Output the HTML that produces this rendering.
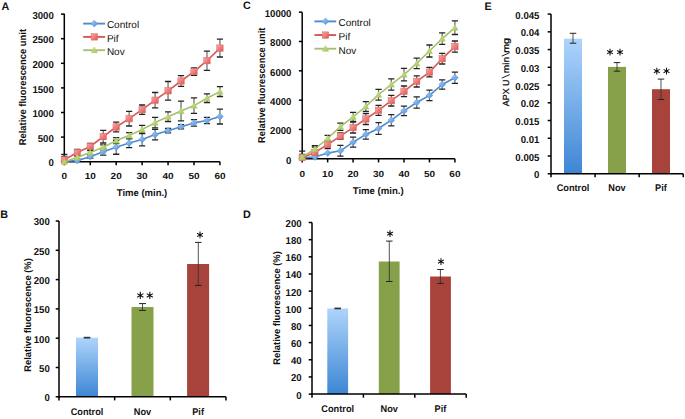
<!DOCTYPE html>
<html><head><meta charset="utf-8"><style>html,body{margin:0;padding:0;background:#fff;width:685px;height:419px;overflow:hidden;position:relative}</style></head>
<body>
<svg width="685" height="419" viewBox="0 0 685 419" style="position:absolute;left:0;top:0;font-family:'Liberation Sans', sans-serif" text-rendering="geometricPrecision">
<defs><linearGradient id="gb" x1="0" y1="0" x2="0" y2="1"><stop offset="0" stop-color="#aed4fb"/><stop offset="1" stop-color="#3d86d4"/></linearGradient><linearGradient id="md" x1="0" y1="0" x2="1" y2="1"><stop offset="0" stop-color="#a6cdf6"/><stop offset="1" stop-color="#4d8fdc"/></linearGradient><linearGradient id="ms" x1="0" y1="0" x2="1" y2="1"><stop offset="0" stop-color="#f8a8a6"/><stop offset="1" stop-color="#e4534f"/></linearGradient><linearGradient id="mt" x1="0" y1="0" x2="1" y2="1"><stop offset="0" stop-color="#d6eca0"/><stop offset="1" stop-color="#9fc248"/></linearGradient><clipPath id="cA"><rect x="40" y="0" width="200" height="160.6"/></clipPath><clipPath id="cC"><rect x="280" y="0" width="200" height="157.7"/></clipPath></defs>
<rect width="685" height="419" fill="#fff"/>
<text transform="translate(1.50,10.30) scale(1.0,1)" font-size="10.8" font-weight="bold" text-anchor="start" fill="#111">A</text>
<text transform="translate(53.80,166.30) scale(0.96,1.0)" font-size="10" font-weight="bold" text-anchor="end" fill="#111">0</text>
<text transform="translate(53.80,141.70) scale(0.96,1.0)" font-size="10" font-weight="bold" text-anchor="end" fill="#111">500</text>
<text transform="translate(53.80,117.10) scale(0.96,1.0)" font-size="10" font-weight="bold" text-anchor="end" fill="#111">1000</text>
<text transform="translate(53.80,92.50) scale(0.96,1.0)" font-size="10" font-weight="bold" text-anchor="end" fill="#111">1500</text>
<text transform="translate(53.80,67.90) scale(0.96,1.0)" font-size="10" font-weight="bold" text-anchor="end" fill="#111">2000</text>
<text transform="translate(53.80,43.30) scale(0.96,1.0)" font-size="10" font-weight="bold" text-anchor="end" fill="#111">2500</text>
<text transform="translate(53.80,18.70) scale(0.96,1.0)" font-size="10" font-weight="bold" text-anchor="end" fill="#111">3000</text>
<text transform="translate(64.30,179.40) scale(1.0,0.89)" font-size="10" font-weight="bold" text-anchor="middle" fill="#111">0</text>
<text transform="translate(90.24,179.40) scale(1.0,0.89)" font-size="10" font-weight="bold" text-anchor="middle" fill="#111">10</text>
<text transform="translate(116.18,179.40) scale(1.0,0.89)" font-size="10" font-weight="bold" text-anchor="middle" fill="#111">20</text>
<text transform="translate(142.12,179.40) scale(1.0,0.89)" font-size="10" font-weight="bold" text-anchor="middle" fill="#111">30</text>
<text transform="translate(168.06,179.40) scale(1.0,0.89)" font-size="10" font-weight="bold" text-anchor="middle" fill="#111">40</text>
<text transform="translate(194.00,179.40) scale(1.0,0.89)" font-size="10" font-weight="bold" text-anchor="middle" fill="#111">50</text>
<text transform="translate(219.94,179.40) scale(1.0,0.89)" font-size="10" font-weight="bold" text-anchor="middle" fill="#111">60</text>
<text transform="translate(142.00,196.40) scale(1.0,0.97)" font-size="10" font-weight="bold" text-anchor="middle" fill="#111" textLength="50.5" lengthAdjust="spacingAndGlyphs">Time (min.)</text>
<text transform="translate(26.10,87.10) rotate(-90)" x="0" y="0" font-size="9.9" font-weight="bold" text-anchor="middle" fill="#111" textLength="116.3" lengthAdjust="spacingAndGlyphs">Relative fluorescence unit</text>
<line x1="64.30" y1="13.70" x2="64.30" y2="162.50" stroke="#000" stroke-width="1.5"/>
<line x1="61.00" y1="161.70" x2="64.30" y2="161.70" stroke="#000" stroke-width="1.5"/>
<line x1="61.00" y1="137.10" x2="64.30" y2="137.10" stroke="#000" stroke-width="1.5"/>
<line x1="61.00" y1="112.50" x2="64.30" y2="112.50" stroke="#000" stroke-width="1.5"/>
<line x1="61.00" y1="87.90" x2="64.30" y2="87.90" stroke="#000" stroke-width="1.5"/>
<line x1="61.00" y1="63.30" x2="64.30" y2="63.30" stroke="#000" stroke-width="1.5"/>
<line x1="61.00" y1="38.70" x2="64.30" y2="38.70" stroke="#000" stroke-width="1.5"/>
<line x1="61.00" y1="14.10" x2="64.30" y2="14.10" stroke="#000" stroke-width="1.5"/>
<line x1="63.50" y1="161.70" x2="219.94" y2="161.70" stroke="#000" stroke-width="1.5"/>
<line x1="64.30" y1="161.70" x2="64.30" y2="165.30" stroke="#000" stroke-width="1.5"/>
<line x1="90.24" y1="161.70" x2="90.24" y2="165.30" stroke="#000" stroke-width="1.5"/>
<line x1="116.18" y1="161.70" x2="116.18" y2="165.30" stroke="#000" stroke-width="1.5"/>
<line x1="142.12" y1="161.70" x2="142.12" y2="165.30" stroke="#000" stroke-width="1.5"/>
<line x1="168.06" y1="161.70" x2="168.06" y2="165.30" stroke="#000" stroke-width="1.5"/>
<line x1="194.00" y1="161.70" x2="194.00" y2="165.30" stroke="#000" stroke-width="1.5"/>
<line x1="219.94" y1="161.70" x2="219.94" y2="165.30" stroke="#000" stroke-width="1.5"/>
<g clip-path="url(#cA)">
<line x1="77.27" y1="159.60" x2="77.27" y2="161.60" stroke="#333" stroke-width="0.9"/>
<line x1="74.17" y1="159.60" x2="80.37" y2="159.60" stroke="#222" stroke-width="1.3"/>
<line x1="74.17" y1="161.60" x2="80.37" y2="161.60" stroke="#222" stroke-width="1.3"/>
<line x1="90.24" y1="155.20" x2="90.24" y2="158.20" stroke="#333" stroke-width="0.9"/>
<line x1="87.14" y1="155.20" x2="93.34" y2="155.20" stroke="#222" stroke-width="1.3"/>
<line x1="87.14" y1="158.20" x2="93.34" y2="158.20" stroke="#222" stroke-width="1.3"/>
<line x1="103.21" y1="148.50" x2="103.21" y2="155.10" stroke="#333" stroke-width="0.9"/>
<line x1="100.11" y1="148.50" x2="106.31" y2="148.50" stroke="#222" stroke-width="1.3"/>
<line x1="100.11" y1="155.10" x2="106.31" y2="155.10" stroke="#222" stroke-width="1.3"/>
<line x1="116.18" y1="140.25" x2="116.18" y2="154.25" stroke="#333" stroke-width="0.9"/>
<line x1="113.08" y1="140.25" x2="119.28" y2="140.25" stroke="#222" stroke-width="1.3"/>
<line x1="113.08" y1="154.25" x2="119.28" y2="154.25" stroke="#222" stroke-width="1.3"/>
<line x1="129.15" y1="138.60" x2="129.15" y2="147.60" stroke="#333" stroke-width="0.9"/>
<line x1="126.05" y1="138.60" x2="132.25" y2="138.60" stroke="#222" stroke-width="1.3"/>
<line x1="126.05" y1="147.60" x2="132.25" y2="147.60" stroke="#222" stroke-width="1.3"/>
<line x1="142.12" y1="133.20" x2="142.12" y2="145.80" stroke="#333" stroke-width="0.9"/>
<line x1="139.02" y1="133.20" x2="145.22" y2="133.20" stroke="#222" stroke-width="1.3"/>
<line x1="139.02" y1="145.80" x2="145.22" y2="145.80" stroke="#222" stroke-width="1.3"/>
<line x1="155.09" y1="129.30" x2="155.09" y2="139.90" stroke="#333" stroke-width="0.9"/>
<line x1="151.99" y1="129.30" x2="158.19" y2="129.30" stroke="#222" stroke-width="1.3"/>
<line x1="151.99" y1="139.90" x2="158.19" y2="139.90" stroke="#222" stroke-width="1.3"/>
<line x1="168.06" y1="128.50" x2="168.06" y2="132.90" stroke="#333" stroke-width="0.9"/>
<line x1="164.96" y1="128.50" x2="171.16" y2="128.50" stroke="#222" stroke-width="1.3"/>
<line x1="164.96" y1="132.90" x2="171.16" y2="132.90" stroke="#222" stroke-width="1.3"/>
<line x1="181.03" y1="124.70" x2="181.03" y2="128.90" stroke="#333" stroke-width="0.9"/>
<line x1="177.93" y1="124.70" x2="184.13" y2="124.70" stroke="#222" stroke-width="1.3"/>
<line x1="177.93" y1="128.90" x2="184.13" y2="128.90" stroke="#222" stroke-width="1.3"/>
<line x1="194.00" y1="119.60" x2="194.00" y2="126.20" stroke="#333" stroke-width="0.9"/>
<line x1="190.90" y1="119.60" x2="197.10" y2="119.60" stroke="#222" stroke-width="1.3"/>
<line x1="190.90" y1="126.20" x2="197.10" y2="126.20" stroke="#222" stroke-width="1.3"/>
<line x1="206.97" y1="117.40" x2="206.97" y2="123.60" stroke="#333" stroke-width="0.9"/>
<line x1="203.87" y1="117.40" x2="210.07" y2="117.40" stroke="#222" stroke-width="1.3"/>
<line x1="203.87" y1="123.60" x2="210.07" y2="123.60" stroke="#222" stroke-width="1.3"/>
<line x1="219.94" y1="109.20" x2="219.94" y2="124.00" stroke="#333" stroke-width="0.9"/>
<line x1="216.84" y1="109.20" x2="223.04" y2="109.20" stroke="#222" stroke-width="1.3"/>
<line x1="216.84" y1="124.00" x2="223.04" y2="124.00" stroke="#222" stroke-width="1.3"/>
</g>
<g clip-path="url(#cA)">
<line x1="64.30" y1="156.50" x2="64.30" y2="163.10" stroke="#333" stroke-width="0.9"/>
<line x1="61.20" y1="156.50" x2="67.40" y2="156.50" stroke="#222" stroke-width="1.3"/>
<line x1="61.20" y1="163.10" x2="67.40" y2="163.10" stroke="#222" stroke-width="1.3"/>
<line x1="77.27" y1="149.50" x2="77.27" y2="155.50" stroke="#333" stroke-width="0.9"/>
<line x1="74.17" y1="149.50" x2="80.37" y2="149.50" stroke="#222" stroke-width="1.3"/>
<line x1="74.17" y1="155.50" x2="80.37" y2="155.50" stroke="#222" stroke-width="1.3"/>
<line x1="90.24" y1="143.50" x2="90.24" y2="149.50" stroke="#333" stroke-width="0.9"/>
<line x1="87.14" y1="143.50" x2="93.34" y2="143.50" stroke="#222" stroke-width="1.3"/>
<line x1="87.14" y1="149.50" x2="93.34" y2="149.50" stroke="#222" stroke-width="1.3"/>
<line x1="103.21" y1="130.40" x2="103.21" y2="143.00" stroke="#333" stroke-width="0.9"/>
<line x1="100.11" y1="130.40" x2="106.31" y2="130.40" stroke="#222" stroke-width="1.3"/>
<line x1="100.11" y1="143.00" x2="106.31" y2="143.00" stroke="#222" stroke-width="1.3"/>
<line x1="116.18" y1="122.20" x2="116.18" y2="131.80" stroke="#333" stroke-width="0.9"/>
<line x1="113.08" y1="122.20" x2="119.28" y2="122.20" stroke="#222" stroke-width="1.3"/>
<line x1="113.08" y1="131.80" x2="119.28" y2="131.80" stroke="#222" stroke-width="1.3"/>
<line x1="129.15" y1="111.40" x2="129.15" y2="126.00" stroke="#333" stroke-width="0.9"/>
<line x1="126.05" y1="111.40" x2="132.25" y2="111.40" stroke="#222" stroke-width="1.3"/>
<line x1="126.05" y1="126.00" x2="132.25" y2="126.00" stroke="#222" stroke-width="1.3"/>
<line x1="142.12" y1="105.00" x2="142.12" y2="114.40" stroke="#333" stroke-width="0.9"/>
<line x1="139.02" y1="105.00" x2="145.22" y2="105.00" stroke="#222" stroke-width="1.3"/>
<line x1="139.02" y1="114.40" x2="145.22" y2="114.40" stroke="#222" stroke-width="1.3"/>
<line x1="155.09" y1="92.50" x2="155.09" y2="107.90" stroke="#333" stroke-width="0.9"/>
<line x1="151.99" y1="92.50" x2="158.19" y2="92.50" stroke="#222" stroke-width="1.3"/>
<line x1="151.99" y1="107.90" x2="158.19" y2="107.90" stroke="#222" stroke-width="1.3"/>
<line x1="168.06" y1="81.50" x2="168.06" y2="100.10" stroke="#333" stroke-width="0.9"/>
<line x1="164.96" y1="81.50" x2="171.16" y2="81.50" stroke="#222" stroke-width="1.3"/>
<line x1="164.96" y1="100.10" x2="171.16" y2="100.10" stroke="#222" stroke-width="1.3"/>
<line x1="181.03" y1="75.60" x2="181.03" y2="86.40" stroke="#333" stroke-width="0.9"/>
<line x1="177.93" y1="75.60" x2="184.13" y2="75.60" stroke="#222" stroke-width="1.3"/>
<line x1="177.93" y1="86.40" x2="184.13" y2="86.40" stroke="#222" stroke-width="1.3"/>
<line x1="194.00" y1="67.90" x2="194.00" y2="75.30" stroke="#333" stroke-width="0.9"/>
<line x1="190.90" y1="67.90" x2="197.10" y2="67.90" stroke="#222" stroke-width="1.3"/>
<line x1="190.90" y1="75.30" x2="197.10" y2="75.30" stroke="#222" stroke-width="1.3"/>
<line x1="206.97" y1="51.10" x2="206.97" y2="70.30" stroke="#333" stroke-width="0.9"/>
<line x1="203.87" y1="51.10" x2="210.07" y2="51.10" stroke="#222" stroke-width="1.3"/>
<line x1="203.87" y1="70.30" x2="210.07" y2="70.30" stroke="#222" stroke-width="1.3"/>
<line x1="219.94" y1="39.20" x2="219.94" y2="57.00" stroke="#333" stroke-width="0.9"/>
<line x1="216.84" y1="39.20" x2="223.04" y2="39.20" stroke="#222" stroke-width="1.3"/>
<line x1="216.84" y1="57.00" x2="223.04" y2="57.00" stroke="#222" stroke-width="1.3"/>
</g>
<g clip-path="url(#cA)">
<line x1="64.30" y1="154.30" x2="64.30" y2="169.70" stroke="#333" stroke-width="0.9"/>
<line x1="61.20" y1="154.30" x2="67.40" y2="154.30" stroke="#222" stroke-width="1.3"/>
<line x1="61.20" y1="169.70" x2="67.40" y2="169.70" stroke="#222" stroke-width="1.3"/>
<line x1="77.27" y1="155.80" x2="77.27" y2="158.80" stroke="#333" stroke-width="0.9"/>
<line x1="74.17" y1="155.80" x2="80.37" y2="155.80" stroke="#222" stroke-width="1.3"/>
<line x1="74.17" y1="158.80" x2="80.37" y2="158.80" stroke="#222" stroke-width="1.3"/>
<line x1="90.24" y1="150.60" x2="90.24" y2="154.60" stroke="#333" stroke-width="0.9"/>
<line x1="87.14" y1="150.60" x2="93.34" y2="150.60" stroke="#222" stroke-width="1.3"/>
<line x1="87.14" y1="154.60" x2="93.34" y2="154.60" stroke="#222" stroke-width="1.3"/>
<line x1="103.21" y1="144.80" x2="103.21" y2="149.80" stroke="#333" stroke-width="0.9"/>
<line x1="100.11" y1="144.80" x2="106.31" y2="144.80" stroke="#222" stroke-width="1.3"/>
<line x1="100.11" y1="149.80" x2="106.31" y2="149.80" stroke="#222" stroke-width="1.3"/>
<line x1="116.18" y1="137.60" x2="116.18" y2="143.60" stroke="#333" stroke-width="0.9"/>
<line x1="113.08" y1="137.60" x2="119.28" y2="137.60" stroke="#222" stroke-width="1.3"/>
<line x1="113.08" y1="143.60" x2="119.28" y2="143.60" stroke="#222" stroke-width="1.3"/>
<line x1="129.15" y1="132.60" x2="129.15" y2="138.60" stroke="#333" stroke-width="0.9"/>
<line x1="126.05" y1="132.60" x2="132.25" y2="132.60" stroke="#222" stroke-width="1.3"/>
<line x1="126.05" y1="138.60" x2="132.25" y2="138.60" stroke="#222" stroke-width="1.3"/>
<line x1="142.12" y1="125.30" x2="142.12" y2="133.70" stroke="#333" stroke-width="0.9"/>
<line x1="139.02" y1="125.30" x2="145.22" y2="125.30" stroke="#222" stroke-width="1.3"/>
<line x1="139.02" y1="133.70" x2="145.22" y2="133.70" stroke="#222" stroke-width="1.3"/>
<line x1="155.09" y1="117.40" x2="155.09" y2="127.80" stroke="#333" stroke-width="0.9"/>
<line x1="151.99" y1="117.40" x2="158.19" y2="117.40" stroke="#222" stroke-width="1.3"/>
<line x1="151.99" y1="127.80" x2="158.19" y2="127.80" stroke="#222" stroke-width="1.3"/>
<line x1="168.06" y1="111.90" x2="168.06" y2="121.50" stroke="#333" stroke-width="0.9"/>
<line x1="164.96" y1="111.90" x2="171.16" y2="111.90" stroke="#222" stroke-width="1.3"/>
<line x1="164.96" y1="121.50" x2="171.16" y2="121.50" stroke="#222" stroke-width="1.3"/>
<line x1="181.03" y1="101.20" x2="181.03" y2="120.80" stroke="#333" stroke-width="0.9"/>
<line x1="177.93" y1="101.20" x2="184.13" y2="101.20" stroke="#222" stroke-width="1.3"/>
<line x1="177.93" y1="120.80" x2="184.13" y2="120.80" stroke="#222" stroke-width="1.3"/>
<line x1="194.00" y1="97.90" x2="194.00" y2="113.30" stroke="#333" stroke-width="0.9"/>
<line x1="190.90" y1="97.90" x2="197.10" y2="97.90" stroke="#222" stroke-width="1.3"/>
<line x1="190.90" y1="113.30" x2="197.10" y2="113.30" stroke="#222" stroke-width="1.3"/>
<line x1="206.97" y1="93.90" x2="206.97" y2="102.50" stroke="#333" stroke-width="0.9"/>
<line x1="203.87" y1="93.90" x2="210.07" y2="93.90" stroke="#222" stroke-width="1.3"/>
<line x1="203.87" y1="102.50" x2="210.07" y2="102.50" stroke="#222" stroke-width="1.3"/>
<line x1="219.94" y1="86.70" x2="219.94" y2="96.50" stroke="#333" stroke-width="0.9"/>
<line x1="216.84" y1="86.70" x2="223.04" y2="86.70" stroke="#222" stroke-width="1.3"/>
<line x1="216.84" y1="96.50" x2="223.04" y2="96.50" stroke="#222" stroke-width="1.3"/>
</g>
<polyline points="64.30,161.30 77.27,160.60 90.24,156.70 103.21,151.80 116.18,147.25 129.15,143.10 142.12,139.50 155.09,134.60 168.06,130.70 181.03,126.80 194.00,122.90 206.97,120.50 219.94,116.60" fill="none" stroke="#5089cc" stroke-width="1.6" stroke-linejoin="round"/>
<path d="M64.30 158.00 L67.70 161.30 L64.30 164.60 L60.90 161.30Z" fill="url(#md)" stroke="#5b93d6" stroke-width="0.5"/>
<path d="M77.27 157.30 L80.67 160.60 L77.27 163.90 L73.87 160.60Z" fill="url(#md)" stroke="#5b93d6" stroke-width="0.5"/>
<path d="M90.24 153.40 L93.64 156.70 L90.24 160.00 L86.84 156.70Z" fill="url(#md)" stroke="#5b93d6" stroke-width="0.5"/>
<path d="M103.21 148.50 L106.61 151.80 L103.21 155.10 L99.81 151.80Z" fill="url(#md)" stroke="#5b93d6" stroke-width="0.5"/>
<path d="M116.18 143.95 L119.58 147.25 L116.18 150.55 L112.78 147.25Z" fill="url(#md)" stroke="#5b93d6" stroke-width="0.5"/>
<path d="M129.15 139.80 L132.55 143.10 L129.15 146.40 L125.75 143.10Z" fill="url(#md)" stroke="#5b93d6" stroke-width="0.5"/>
<path d="M142.12 136.20 L145.52 139.50 L142.12 142.80 L138.72 139.50Z" fill="url(#md)" stroke="#5b93d6" stroke-width="0.5"/>
<path d="M155.09 131.30 L158.49 134.60 L155.09 137.90 L151.69 134.60Z" fill="url(#md)" stroke="#5b93d6" stroke-width="0.5"/>
<path d="M168.06 127.40 L171.46 130.70 L168.06 134.00 L164.66 130.70Z" fill="url(#md)" stroke="#5b93d6" stroke-width="0.5"/>
<path d="M181.03 123.50 L184.43 126.80 L181.03 130.10 L177.63 126.80Z" fill="url(#md)" stroke="#5b93d6" stroke-width="0.5"/>
<path d="M194.00 119.60 L197.40 122.90 L194.00 126.20 L190.60 122.90Z" fill="url(#md)" stroke="#5b93d6" stroke-width="0.5"/>
<path d="M206.97 117.20 L210.37 120.50 L206.97 123.80 L203.57 120.50Z" fill="url(#md)" stroke="#5b93d6" stroke-width="0.5"/>
<path d="M219.94 113.30 L223.34 116.60 L219.94 119.90 L216.54 116.60Z" fill="url(#md)" stroke="#5b93d6" stroke-width="0.5"/>
<polyline points="64.30,159.80 77.27,152.50 90.24,146.50 103.21,136.70 116.18,127.00 129.15,118.70 142.12,109.70 155.09,100.20 168.06,90.80 181.03,81.00 194.00,71.60 206.97,60.70 219.94,48.10" fill="none" stroke="#d4585a" stroke-width="1.6" stroke-linejoin="round"/>
<rect x="61.10" y="156.60" width="6.4" height="6.4" fill="url(#ms)" stroke="#dc6663" stroke-width="0.5"/>
<rect x="74.07" y="149.30" width="6.4" height="6.4" fill="url(#ms)" stroke="#dc6663" stroke-width="0.5"/>
<rect x="87.04" y="143.30" width="6.4" height="6.4" fill="url(#ms)" stroke="#dc6663" stroke-width="0.5"/>
<rect x="100.01" y="133.50" width="6.4" height="6.4" fill="url(#ms)" stroke="#dc6663" stroke-width="0.5"/>
<rect x="112.98" y="123.80" width="6.4" height="6.4" fill="url(#ms)" stroke="#dc6663" stroke-width="0.5"/>
<rect x="125.95" y="115.50" width="6.4" height="6.4" fill="url(#ms)" stroke="#dc6663" stroke-width="0.5"/>
<rect x="138.92" y="106.50" width="6.4" height="6.4" fill="url(#ms)" stroke="#dc6663" stroke-width="0.5"/>
<rect x="151.89" y="97.00" width="6.4" height="6.4" fill="url(#ms)" stroke="#dc6663" stroke-width="0.5"/>
<rect x="164.86" y="87.60" width="6.4" height="6.4" fill="url(#ms)" stroke="#dc6663" stroke-width="0.5"/>
<rect x="177.83" y="77.80" width="6.4" height="6.4" fill="url(#ms)" stroke="#dc6663" stroke-width="0.5"/>
<rect x="190.80" y="68.40" width="6.4" height="6.4" fill="url(#ms)" stroke="#dc6663" stroke-width="0.5"/>
<rect x="203.77" y="57.50" width="6.4" height="6.4" fill="url(#ms)" stroke="#dc6663" stroke-width="0.5"/>
<rect x="216.74" y="44.90" width="6.4" height="6.4" fill="url(#ms)" stroke="#dc6663" stroke-width="0.5"/>
<polyline points="64.30,162.00 77.27,157.30 90.24,152.60 103.21,147.30 116.18,140.60 129.15,135.60 142.12,129.50 155.09,122.60 168.06,116.70 181.03,111.00 194.00,105.60 206.97,98.20 219.94,91.60" fill="none" stroke="#a4c070" stroke-width="1.6" stroke-linejoin="round"/>
<path d="M64.30 158.80 L67.40 164.60 L61.20 164.60Z" fill="url(#mt)" stroke="#a9c866" stroke-width="0.5"/>
<path d="M77.27 154.10 L80.37 159.90 L74.17 159.90Z" fill="url(#mt)" stroke="#a9c866" stroke-width="0.5"/>
<path d="M90.24 149.40 L93.34 155.20 L87.14 155.20Z" fill="url(#mt)" stroke="#a9c866" stroke-width="0.5"/>
<path d="M103.21 144.10 L106.31 149.90 L100.11 149.90Z" fill="url(#mt)" stroke="#a9c866" stroke-width="0.5"/>
<path d="M116.18 137.40 L119.28 143.20 L113.08 143.20Z" fill="url(#mt)" stroke="#a9c866" stroke-width="0.5"/>
<path d="M129.15 132.40 L132.25 138.20 L126.05 138.20Z" fill="url(#mt)" stroke="#a9c866" stroke-width="0.5"/>
<path d="M142.12 126.30 L145.22 132.10 L139.02 132.10Z" fill="url(#mt)" stroke="#a9c866" stroke-width="0.5"/>
<path d="M155.09 119.40 L158.19 125.20 L151.99 125.20Z" fill="url(#mt)" stroke="#a9c866" stroke-width="0.5"/>
<path d="M168.06 113.50 L171.16 119.30 L164.96 119.30Z" fill="url(#mt)" stroke="#a9c866" stroke-width="0.5"/>
<path d="M181.03 107.80 L184.13 113.60 L177.93 113.60Z" fill="url(#mt)" stroke="#a9c866" stroke-width="0.5"/>
<path d="M194.00 102.40 L197.10 108.20 L190.90 108.20Z" fill="url(#mt)" stroke="#a9c866" stroke-width="0.5"/>
<path d="M206.97 95.00 L210.07 100.80 L203.87 100.80Z" fill="url(#mt)" stroke="#a9c866" stroke-width="0.5"/>
<path d="M219.94 88.40 L223.04 94.20 L216.84 94.20Z" fill="url(#mt)" stroke="#a9c866" stroke-width="0.5"/>
<line x1="83.20" y1="23.60" x2="105.10" y2="23.60" stroke="#5089cc" stroke-width="1.9"/>
<path d="M94.30 20.30 L97.70 23.60 L94.30 26.90 L90.90 23.60Z" fill="url(#md)" stroke="#5b93d6" stroke-width="0.5"/>
<text transform="translate(106.90,28.40) scale(1.0,1.0)" font-size="10" font-weight="normal" text-anchor="start" fill="#111">Control</text>
<line x1="83.20" y1="36.90" x2="105.10" y2="36.90" stroke="#d4585a" stroke-width="1.9"/>
<rect x="91.10" y="33.70" width="6.4" height="6.4" fill="url(#ms)" stroke="#dc6663" stroke-width="0.5"/>
<text transform="translate(106.90,41.70) scale(1.0,1.0)" font-size="10" font-weight="normal" text-anchor="start" fill="#111">Pif</text>
<line x1="83.20" y1="50.20" x2="105.10" y2="50.20" stroke="#a4c070" stroke-width="1.9"/>
<path d="M94.30 47.00 L97.40 52.80 L91.20 52.80Z" fill="url(#mt)" stroke="#a9c866" stroke-width="0.5"/>
<text transform="translate(106.90,55.00) scale(1.0,1.0)" font-size="10" font-weight="normal" text-anchor="start" fill="#111">Nov</text>
<text transform="translate(242.90,9.20) scale(1.0,1)" font-size="10.8" font-weight="bold" text-anchor="start" fill="#111">C</text>
<text transform="translate(291.40,163.50) scale(0.96,1.0)" font-size="10" font-weight="bold" text-anchor="end" fill="#111">0</text>
<text transform="translate(291.40,134.17) scale(0.96,1.0)" font-size="10" font-weight="bold" text-anchor="end" fill="#111">2000</text>
<text transform="translate(291.40,104.84) scale(0.96,1.0)" font-size="10" font-weight="bold" text-anchor="end" fill="#111">4000</text>
<text transform="translate(291.40,75.51) scale(0.96,1.0)" font-size="10" font-weight="bold" text-anchor="end" fill="#111">6000</text>
<text transform="translate(291.40,46.18) scale(0.96,1.0)" font-size="10" font-weight="bold" text-anchor="end" fill="#111">8000</text>
<text transform="translate(291.40,16.85) scale(0.96,1.0)" font-size="10" font-weight="bold" text-anchor="end" fill="#111">10000</text>
<text transform="translate(302.20,177.20) scale(1.0,0.89)" font-size="10" font-weight="bold" text-anchor="middle" fill="#111">0</text>
<text transform="translate(327.65,177.20) scale(1.0,0.89)" font-size="10" font-weight="bold" text-anchor="middle" fill="#111">10</text>
<text transform="translate(353.10,177.20) scale(1.0,0.89)" font-size="10" font-weight="bold" text-anchor="middle" fill="#111">20</text>
<text transform="translate(378.55,177.20) scale(1.0,0.89)" font-size="10" font-weight="bold" text-anchor="middle" fill="#111">30</text>
<text transform="translate(404.00,177.20) scale(1.0,0.89)" font-size="10" font-weight="bold" text-anchor="middle" fill="#111">40</text>
<text transform="translate(429.45,177.20) scale(1.0,0.89)" font-size="10" font-weight="bold" text-anchor="middle" fill="#111">50</text>
<text transform="translate(454.90,177.20) scale(1.0,0.89)" font-size="10" font-weight="bold" text-anchor="middle" fill="#111">60</text>
<text transform="translate(378.20,193.90) scale(1.0,0.97)" font-size="10" font-weight="bold" text-anchor="middle" fill="#111" textLength="51" lengthAdjust="spacingAndGlyphs">Time (min.)</text>
<text transform="translate(265.00,85.25) rotate(-90)" x="0" y="0" font-size="9.9" font-weight="bold" text-anchor="middle" fill="#111" textLength="115.3" lengthAdjust="spacingAndGlyphs">Relative fluorescence unit</text>
<line x1="302.20" y1="12.20" x2="302.20" y2="159.60" stroke="#000" stroke-width="1.5"/>
<line x1="298.90" y1="158.80" x2="302.20" y2="158.80" stroke="#000" stroke-width="1.5"/>
<line x1="298.90" y1="129.47" x2="302.20" y2="129.47" stroke="#000" stroke-width="1.5"/>
<line x1="298.90" y1="100.14" x2="302.20" y2="100.14" stroke="#000" stroke-width="1.5"/>
<line x1="298.90" y1="70.81" x2="302.20" y2="70.81" stroke="#000" stroke-width="1.5"/>
<line x1="298.90" y1="41.48" x2="302.20" y2="41.48" stroke="#000" stroke-width="1.5"/>
<line x1="298.90" y1="12.15" x2="302.20" y2="12.15" stroke="#000" stroke-width="1.5"/>
<line x1="301.40" y1="158.80" x2="454.90" y2="158.80" stroke="#000" stroke-width="1.5"/>
<line x1="302.20" y1="158.80" x2="302.20" y2="162.40" stroke="#000" stroke-width="1.5"/>
<line x1="327.65" y1="158.80" x2="327.65" y2="162.40" stroke="#000" stroke-width="1.5"/>
<line x1="353.10" y1="158.80" x2="353.10" y2="162.40" stroke="#000" stroke-width="1.5"/>
<line x1="378.55" y1="158.80" x2="378.55" y2="162.40" stroke="#000" stroke-width="1.5"/>
<line x1="404.00" y1="158.80" x2="404.00" y2="162.40" stroke="#000" stroke-width="1.5"/>
<line x1="429.45" y1="158.80" x2="429.45" y2="162.40" stroke="#000" stroke-width="1.5"/>
<line x1="454.90" y1="158.80" x2="454.90" y2="162.40" stroke="#000" stroke-width="1.5"/>
<g clip-path="url(#cC)">
<line x1="302.20" y1="154.60" x2="302.20" y2="160.60" stroke="#333" stroke-width="0.9"/>
<line x1="299.10" y1="154.60" x2="305.30" y2="154.60" stroke="#222" stroke-width="1.3"/>
<line x1="299.10" y1="160.60" x2="305.30" y2="160.60" stroke="#222" stroke-width="1.3"/>
<line x1="314.93" y1="155.10" x2="314.93" y2="159.10" stroke="#333" stroke-width="0.9"/>
<line x1="311.82" y1="155.10" x2="318.03" y2="155.10" stroke="#222" stroke-width="1.3"/>
<line x1="311.82" y1="159.10" x2="318.03" y2="159.10" stroke="#222" stroke-width="1.3"/>
<line x1="340.38" y1="145.40" x2="340.38" y2="156.20" stroke="#333" stroke-width="0.9"/>
<line x1="337.27" y1="145.40" x2="343.48" y2="145.40" stroke="#222" stroke-width="1.3"/>
<line x1="337.27" y1="156.20" x2="343.48" y2="156.20" stroke="#222" stroke-width="1.3"/>
<line x1="353.10" y1="137.20" x2="353.10" y2="147.20" stroke="#333" stroke-width="0.9"/>
<line x1="350.00" y1="137.20" x2="356.20" y2="137.20" stroke="#222" stroke-width="1.3"/>
<line x1="350.00" y1="147.20" x2="356.20" y2="147.20" stroke="#222" stroke-width="1.3"/>
<line x1="365.82" y1="129.70" x2="365.82" y2="139.10" stroke="#333" stroke-width="0.9"/>
<line x1="362.72" y1="129.70" x2="368.93" y2="129.70" stroke="#222" stroke-width="1.3"/>
<line x1="362.72" y1="139.10" x2="368.93" y2="139.10" stroke="#222" stroke-width="1.3"/>
<line x1="378.55" y1="122.70" x2="378.55" y2="134.30" stroke="#333" stroke-width="0.9"/>
<line x1="375.45" y1="122.70" x2="381.65" y2="122.70" stroke="#222" stroke-width="1.3"/>
<line x1="375.45" y1="134.30" x2="381.65" y2="134.30" stroke="#222" stroke-width="1.3"/>
<line x1="391.27" y1="114.60" x2="391.27" y2="125.80" stroke="#333" stroke-width="0.9"/>
<line x1="388.17" y1="114.60" x2="394.38" y2="114.60" stroke="#222" stroke-width="1.3"/>
<line x1="388.17" y1="125.80" x2="394.38" y2="125.80" stroke="#222" stroke-width="1.3"/>
<line x1="404.00" y1="106.20" x2="404.00" y2="115.60" stroke="#333" stroke-width="0.9"/>
<line x1="400.90" y1="106.20" x2="407.10" y2="106.20" stroke="#222" stroke-width="1.3"/>
<line x1="400.90" y1="115.60" x2="407.10" y2="115.60" stroke="#222" stroke-width="1.3"/>
<line x1="416.72" y1="96.90" x2="416.72" y2="108.10" stroke="#333" stroke-width="0.9"/>
<line x1="413.62" y1="96.90" x2="419.82" y2="96.90" stroke="#222" stroke-width="1.3"/>
<line x1="413.62" y1="108.10" x2="419.82" y2="108.10" stroke="#222" stroke-width="1.3"/>
<line x1="429.45" y1="90.10" x2="429.45" y2="100.70" stroke="#333" stroke-width="0.9"/>
<line x1="426.35" y1="90.10" x2="432.55" y2="90.10" stroke="#222" stroke-width="1.3"/>
<line x1="426.35" y1="100.70" x2="432.55" y2="100.70" stroke="#222" stroke-width="1.3"/>
<line x1="442.17" y1="79.80" x2="442.17" y2="89.20" stroke="#333" stroke-width="0.9"/>
<line x1="439.07" y1="79.80" x2="445.27" y2="79.80" stroke="#222" stroke-width="1.3"/>
<line x1="439.07" y1="89.20" x2="445.27" y2="89.20" stroke="#222" stroke-width="1.3"/>
<line x1="454.90" y1="72.10" x2="454.90" y2="83.30" stroke="#333" stroke-width="0.9"/>
<line x1="451.80" y1="72.10" x2="458.00" y2="72.10" stroke="#222" stroke-width="1.3"/>
<line x1="451.80" y1="83.30" x2="458.00" y2="83.30" stroke="#222" stroke-width="1.3"/>
</g>
<g clip-path="url(#cC)">
<line x1="302.20" y1="154.50" x2="302.20" y2="160.50" stroke="#333" stroke-width="0.9"/>
<line x1="299.10" y1="154.50" x2="305.30" y2="154.50" stroke="#222" stroke-width="1.3"/>
<line x1="299.10" y1="160.50" x2="305.30" y2="160.50" stroke="#222" stroke-width="1.3"/>
<line x1="314.93" y1="147.00" x2="314.93" y2="157.80" stroke="#333" stroke-width="0.9"/>
<line x1="311.82" y1="147.00" x2="318.03" y2="147.00" stroke="#222" stroke-width="1.3"/>
<line x1="311.82" y1="157.80" x2="318.03" y2="157.80" stroke="#222" stroke-width="1.3"/>
<line x1="327.65" y1="140.50" x2="327.65" y2="148.50" stroke="#333" stroke-width="0.9"/>
<line x1="324.55" y1="140.50" x2="330.75" y2="140.50" stroke="#222" stroke-width="1.3"/>
<line x1="324.55" y1="148.50" x2="330.75" y2="148.50" stroke="#222" stroke-width="1.3"/>
<line x1="340.38" y1="133.00" x2="340.38" y2="139.40" stroke="#333" stroke-width="0.9"/>
<line x1="337.27" y1="133.00" x2="343.48" y2="133.00" stroke="#222" stroke-width="1.3"/>
<line x1="337.27" y1="139.40" x2="343.48" y2="139.40" stroke="#222" stroke-width="1.3"/>
<line x1="353.10" y1="122.20" x2="353.10" y2="133.00" stroke="#333" stroke-width="0.9"/>
<line x1="350.00" y1="122.20" x2="356.20" y2="122.20" stroke="#222" stroke-width="1.3"/>
<line x1="350.00" y1="133.00" x2="356.20" y2="133.00" stroke="#222" stroke-width="1.3"/>
<line x1="365.82" y1="113.50" x2="365.82" y2="124.50" stroke="#333" stroke-width="0.9"/>
<line x1="362.72" y1="113.50" x2="368.93" y2="113.50" stroke="#222" stroke-width="1.3"/>
<line x1="362.72" y1="124.50" x2="368.93" y2="124.50" stroke="#222" stroke-width="1.3"/>
<line x1="378.55" y1="105.30" x2="378.55" y2="115.30" stroke="#333" stroke-width="0.9"/>
<line x1="375.45" y1="105.30" x2="381.65" y2="105.30" stroke="#222" stroke-width="1.3"/>
<line x1="375.45" y1="115.30" x2="381.65" y2="115.30" stroke="#222" stroke-width="1.3"/>
<line x1="391.27" y1="95.40" x2="391.27" y2="106.00" stroke="#333" stroke-width="0.9"/>
<line x1="388.17" y1="95.40" x2="394.38" y2="95.40" stroke="#222" stroke-width="1.3"/>
<line x1="388.17" y1="106.00" x2="394.38" y2="106.00" stroke="#222" stroke-width="1.3"/>
<line x1="404.00" y1="86.00" x2="404.00" y2="96.60" stroke="#333" stroke-width="0.9"/>
<line x1="400.90" y1="86.00" x2="407.10" y2="86.00" stroke="#222" stroke-width="1.3"/>
<line x1="400.90" y1="96.60" x2="407.10" y2="96.60" stroke="#222" stroke-width="1.3"/>
<line x1="416.72" y1="75.80" x2="416.72" y2="87.00" stroke="#333" stroke-width="0.9"/>
<line x1="413.62" y1="75.80" x2="419.82" y2="75.80" stroke="#222" stroke-width="1.3"/>
<line x1="413.62" y1="87.00" x2="419.82" y2="87.00" stroke="#222" stroke-width="1.3"/>
<line x1="429.45" y1="67.40" x2="429.45" y2="76.80" stroke="#333" stroke-width="0.9"/>
<line x1="426.35" y1="67.40" x2="432.55" y2="67.40" stroke="#222" stroke-width="1.3"/>
<line x1="426.35" y1="76.80" x2="432.55" y2="76.80" stroke="#222" stroke-width="1.3"/>
<line x1="442.17" y1="53.40" x2="442.17" y2="64.00" stroke="#333" stroke-width="0.9"/>
<line x1="439.07" y1="53.40" x2="445.27" y2="53.40" stroke="#222" stroke-width="1.3"/>
<line x1="439.07" y1="64.00" x2="445.27" y2="64.00" stroke="#222" stroke-width="1.3"/>
<line x1="454.90" y1="41.00" x2="454.90" y2="52.20" stroke="#333" stroke-width="0.9"/>
<line x1="451.80" y1="41.00" x2="458.00" y2="41.00" stroke="#222" stroke-width="1.3"/>
<line x1="451.80" y1="52.20" x2="458.00" y2="52.20" stroke="#222" stroke-width="1.3"/>
</g>
<g clip-path="url(#cC)">
<line x1="302.20" y1="151.10" x2="302.20" y2="163.10" stroke="#333" stroke-width="0.9"/>
<line x1="299.10" y1="151.10" x2="305.30" y2="151.10" stroke="#222" stroke-width="1.3"/>
<line x1="299.10" y1="163.10" x2="305.30" y2="163.10" stroke="#222" stroke-width="1.3"/>
<line x1="314.93" y1="145.70" x2="314.93" y2="152.30" stroke="#333" stroke-width="0.9"/>
<line x1="311.82" y1="145.70" x2="318.03" y2="145.70" stroke="#222" stroke-width="1.3"/>
<line x1="311.82" y1="152.30" x2="318.03" y2="152.30" stroke="#222" stroke-width="1.3"/>
<line x1="327.65" y1="135.30" x2="327.65" y2="141.70" stroke="#333" stroke-width="0.9"/>
<line x1="324.55" y1="135.30" x2="330.75" y2="135.30" stroke="#222" stroke-width="1.3"/>
<line x1="324.55" y1="141.70" x2="330.75" y2="141.70" stroke="#222" stroke-width="1.3"/>
<line x1="340.38" y1="123.10" x2="340.38" y2="130.30" stroke="#333" stroke-width="0.9"/>
<line x1="337.27" y1="123.10" x2="343.48" y2="123.10" stroke="#222" stroke-width="1.3"/>
<line x1="337.27" y1="130.30" x2="343.48" y2="130.30" stroke="#222" stroke-width="1.3"/>
<line x1="353.10" y1="112.30" x2="353.10" y2="121.30" stroke="#333" stroke-width="0.9"/>
<line x1="350.00" y1="112.30" x2="356.20" y2="112.30" stroke="#222" stroke-width="1.3"/>
<line x1="350.00" y1="121.30" x2="356.20" y2="121.30" stroke="#222" stroke-width="1.3"/>
<line x1="365.82" y1="101.70" x2="365.82" y2="111.30" stroke="#333" stroke-width="0.9"/>
<line x1="362.72" y1="101.70" x2="368.93" y2="101.70" stroke="#222" stroke-width="1.3"/>
<line x1="362.72" y1="111.30" x2="368.93" y2="111.30" stroke="#222" stroke-width="1.3"/>
<line x1="378.55" y1="89.30" x2="378.55" y2="100.10" stroke="#333" stroke-width="0.9"/>
<line x1="375.45" y1="89.30" x2="381.65" y2="89.30" stroke="#222" stroke-width="1.3"/>
<line x1="375.45" y1="100.10" x2="381.65" y2="100.10" stroke="#222" stroke-width="1.3"/>
<line x1="391.27" y1="78.90" x2="391.27" y2="90.10" stroke="#333" stroke-width="0.9"/>
<line x1="388.17" y1="78.90" x2="394.38" y2="78.90" stroke="#222" stroke-width="1.3"/>
<line x1="388.17" y1="90.10" x2="394.38" y2="90.10" stroke="#222" stroke-width="1.3"/>
<line x1="404.00" y1="68.40" x2="404.00" y2="80.80" stroke="#333" stroke-width="0.9"/>
<line x1="400.90" y1="68.40" x2="407.10" y2="68.40" stroke="#222" stroke-width="1.3"/>
<line x1="400.90" y1="80.80" x2="407.10" y2="80.80" stroke="#222" stroke-width="1.3"/>
<line x1="416.72" y1="58.10" x2="416.72" y2="68.70" stroke="#333" stroke-width="0.9"/>
<line x1="413.62" y1="58.10" x2="419.82" y2="58.10" stroke="#222" stroke-width="1.3"/>
<line x1="413.62" y1="68.70" x2="419.82" y2="68.70" stroke="#222" stroke-width="1.3"/>
<line x1="429.45" y1="45.00" x2="429.45" y2="57.00" stroke="#333" stroke-width="0.9"/>
<line x1="426.35" y1="45.00" x2="432.55" y2="45.00" stroke="#222" stroke-width="1.3"/>
<line x1="426.35" y1="57.00" x2="432.55" y2="57.00" stroke="#222" stroke-width="1.3"/>
<line x1="442.17" y1="32.80" x2="442.17" y2="44.40" stroke="#333" stroke-width="0.9"/>
<line x1="439.07" y1="32.80" x2="445.27" y2="32.80" stroke="#222" stroke-width="1.3"/>
<line x1="439.07" y1="44.40" x2="445.27" y2="44.40" stroke="#222" stroke-width="1.3"/>
<line x1="454.90" y1="20.90" x2="454.90" y2="34.50" stroke="#333" stroke-width="0.9"/>
<line x1="451.80" y1="20.90" x2="458.00" y2="20.90" stroke="#222" stroke-width="1.3"/>
<line x1="451.80" y1="34.50" x2="458.00" y2="34.50" stroke="#222" stroke-width="1.3"/>
</g>
<polyline points="302.20,157.60 314.93,157.10 327.65,153.10 340.38,150.80 353.10,142.20 365.82,134.40 378.55,128.50 391.27,120.20 404.00,110.90 416.72,102.50 429.45,95.40 442.17,84.50 454.90,77.70" fill="none" stroke="#5089cc" stroke-width="1.6" stroke-linejoin="round"/>
<path d="M302.20 154.30 L305.60 157.60 L302.20 160.90 L298.80 157.60Z" fill="url(#md)" stroke="#5b93d6" stroke-width="0.5"/>
<path d="M314.93 153.80 L318.32 157.10 L314.93 160.40 L311.53 157.10Z" fill="url(#md)" stroke="#5b93d6" stroke-width="0.5"/>
<path d="M327.65 149.80 L331.05 153.10 L327.65 156.40 L324.25 153.10Z" fill="url(#md)" stroke="#5b93d6" stroke-width="0.5"/>
<path d="M340.38 147.50 L343.77 150.80 L340.38 154.10 L336.98 150.80Z" fill="url(#md)" stroke="#5b93d6" stroke-width="0.5"/>
<path d="M353.10 138.90 L356.50 142.20 L353.10 145.50 L349.70 142.20Z" fill="url(#md)" stroke="#5b93d6" stroke-width="0.5"/>
<path d="M365.82 131.10 L369.22 134.40 L365.82 137.70 L362.43 134.40Z" fill="url(#md)" stroke="#5b93d6" stroke-width="0.5"/>
<path d="M378.55 125.20 L381.95 128.50 L378.55 131.80 L375.15 128.50Z" fill="url(#md)" stroke="#5b93d6" stroke-width="0.5"/>
<path d="M391.27 116.90 L394.67 120.20 L391.27 123.50 L387.88 120.20Z" fill="url(#md)" stroke="#5b93d6" stroke-width="0.5"/>
<path d="M404.00 107.60 L407.40 110.90 L404.00 114.20 L400.60 110.90Z" fill="url(#md)" stroke="#5b93d6" stroke-width="0.5"/>
<path d="M416.72 99.20 L420.12 102.50 L416.72 105.80 L413.32 102.50Z" fill="url(#md)" stroke="#5b93d6" stroke-width="0.5"/>
<path d="M429.45 92.10 L432.85 95.40 L429.45 98.70 L426.05 95.40Z" fill="url(#md)" stroke="#5b93d6" stroke-width="0.5"/>
<path d="M442.17 81.20 L445.57 84.50 L442.17 87.80 L438.77 84.50Z" fill="url(#md)" stroke="#5b93d6" stroke-width="0.5"/>
<path d="M454.90 74.40 L458.30 77.70 L454.90 81.00 L451.50 77.70Z" fill="url(#md)" stroke="#5b93d6" stroke-width="0.5"/>
<polyline points="302.20,157.50 314.93,152.40 327.65,144.50 340.38,136.20 353.10,127.60 365.82,119.00 378.55,110.30 391.27,100.70 404.00,91.30 416.72,81.40 429.45,72.10 442.17,58.70 454.90,46.60" fill="none" stroke="#d4585a" stroke-width="1.6" stroke-linejoin="round"/>
<rect x="299.00" y="154.30" width="6.4" height="6.4" fill="url(#ms)" stroke="#dc6663" stroke-width="0.5"/>
<rect x="311.73" y="149.20" width="6.4" height="6.4" fill="url(#ms)" stroke="#dc6663" stroke-width="0.5"/>
<rect x="324.45" y="141.30" width="6.4" height="6.4" fill="url(#ms)" stroke="#dc6663" stroke-width="0.5"/>
<rect x="337.18" y="133.00" width="6.4" height="6.4" fill="url(#ms)" stroke="#dc6663" stroke-width="0.5"/>
<rect x="349.90" y="124.40" width="6.4" height="6.4" fill="url(#ms)" stroke="#dc6663" stroke-width="0.5"/>
<rect x="362.62" y="115.80" width="6.4" height="6.4" fill="url(#ms)" stroke="#dc6663" stroke-width="0.5"/>
<rect x="375.35" y="107.10" width="6.4" height="6.4" fill="url(#ms)" stroke="#dc6663" stroke-width="0.5"/>
<rect x="388.07" y="97.50" width="6.4" height="6.4" fill="url(#ms)" stroke="#dc6663" stroke-width="0.5"/>
<rect x="400.80" y="88.10" width="6.4" height="6.4" fill="url(#ms)" stroke="#dc6663" stroke-width="0.5"/>
<rect x="413.52" y="78.20" width="6.4" height="6.4" fill="url(#ms)" stroke="#dc6663" stroke-width="0.5"/>
<rect x="426.25" y="68.90" width="6.4" height="6.4" fill="url(#ms)" stroke="#dc6663" stroke-width="0.5"/>
<rect x="438.97" y="55.50" width="6.4" height="6.4" fill="url(#ms)" stroke="#dc6663" stroke-width="0.5"/>
<rect x="451.70" y="43.40" width="6.4" height="6.4" fill="url(#ms)" stroke="#dc6663" stroke-width="0.5"/>
<polyline points="302.20,157.10 314.93,149.00 327.65,138.50 340.38,126.70 353.10,116.80 365.82,106.50 378.55,94.70 391.27,84.50 404.00,74.60 416.72,63.40 429.45,51.00 442.17,38.60 454.90,27.70" fill="none" stroke="#a4c070" stroke-width="1.6" stroke-linejoin="round"/>
<path d="M302.20 153.90 L305.30 159.70 L299.10 159.70Z" fill="url(#mt)" stroke="#a9c866" stroke-width="0.5"/>
<path d="M314.93 145.80 L318.03 151.60 L311.82 151.60Z" fill="url(#mt)" stroke="#a9c866" stroke-width="0.5"/>
<path d="M327.65 135.30 L330.75 141.10 L324.55 141.10Z" fill="url(#mt)" stroke="#a9c866" stroke-width="0.5"/>
<path d="M340.38 123.50 L343.48 129.30 L337.27 129.30Z" fill="url(#mt)" stroke="#a9c866" stroke-width="0.5"/>
<path d="M353.10 113.60 L356.20 119.40 L350.00 119.40Z" fill="url(#mt)" stroke="#a9c866" stroke-width="0.5"/>
<path d="M365.82 103.30 L368.93 109.10 L362.72 109.10Z" fill="url(#mt)" stroke="#a9c866" stroke-width="0.5"/>
<path d="M378.55 91.50 L381.65 97.30 L375.45 97.30Z" fill="url(#mt)" stroke="#a9c866" stroke-width="0.5"/>
<path d="M391.27 81.30 L394.38 87.10 L388.17 87.10Z" fill="url(#mt)" stroke="#a9c866" stroke-width="0.5"/>
<path d="M404.00 71.40 L407.10 77.20 L400.90 77.20Z" fill="url(#mt)" stroke="#a9c866" stroke-width="0.5"/>
<path d="M416.72 60.20 L419.82 66.00 L413.62 66.00Z" fill="url(#mt)" stroke="#a9c866" stroke-width="0.5"/>
<path d="M429.45 47.80 L432.55 53.60 L426.35 53.60Z" fill="url(#mt)" stroke="#a9c866" stroke-width="0.5"/>
<path d="M442.17 35.40 L445.27 41.20 L439.07 41.20Z" fill="url(#mt)" stroke="#a9c866" stroke-width="0.5"/>
<path d="M454.90 24.50 L458.00 30.30 L451.80 30.30Z" fill="url(#mt)" stroke="#a9c866" stroke-width="0.5"/>
<line x1="314.40" y1="21.40" x2="336.20" y2="21.40" stroke="#5089cc" stroke-width="1.9"/>
<path d="M325.50 18.10 L328.90 21.40 L325.50 24.70 L322.10 21.40Z" fill="url(#md)" stroke="#5b93d6" stroke-width="0.5"/>
<text transform="translate(338.50,26.20) scale(1.0,1.0)" font-size="10" font-weight="normal" text-anchor="start" fill="#111">Control</text>
<line x1="314.40" y1="35.05" x2="336.20" y2="35.05" stroke="#d4585a" stroke-width="1.9"/>
<rect x="322.30" y="31.85" width="6.4" height="6.4" fill="url(#ms)" stroke="#dc6663" stroke-width="0.5"/>
<text transform="translate(338.50,39.85) scale(1.0,1.0)" font-size="10" font-weight="normal" text-anchor="start" fill="#111">Pif</text>
<line x1="314.40" y1="48.70" x2="336.20" y2="48.70" stroke="#a4c070" stroke-width="1.9"/>
<path d="M325.50 45.50 L328.60 51.30 L322.40 51.30Z" fill="url(#mt)" stroke="#a9c866" stroke-width="0.5"/>
<text transform="translate(338.50,53.50) scale(1.0,1.0)" font-size="10" font-weight="normal" text-anchor="start" fill="#111">Nov</text>
<text transform="translate(484.60,10.40) scale(1.0,1)" font-size="10.8" font-weight="bold" text-anchor="start" fill="#111">E</text>
<text transform="translate(539.40,178.25) scale(0.96,1.0)" font-size="10" font-weight="bold" text-anchor="end" fill="#111">0</text>
<text transform="translate(539.40,160.51) scale(0.96,1.0)" font-size="10" font-weight="bold" text-anchor="end" fill="#111">0.005</text>
<text transform="translate(539.40,142.77) scale(0.96,1.0)" font-size="10" font-weight="bold" text-anchor="end" fill="#111">0.01</text>
<text transform="translate(539.40,125.03) scale(0.96,1.0)" font-size="10" font-weight="bold" text-anchor="end" fill="#111">0.015</text>
<text transform="translate(539.40,107.29) scale(0.96,1.0)" font-size="10" font-weight="bold" text-anchor="end" fill="#111">0.02</text>
<text transform="translate(539.40,89.55) scale(0.96,1.0)" font-size="10" font-weight="bold" text-anchor="end" fill="#111">0.025</text>
<text transform="translate(539.40,71.81) scale(0.96,1.0)" font-size="10" font-weight="bold" text-anchor="end" fill="#111">0.03</text>
<text transform="translate(539.40,54.07) scale(0.96,1.0)" font-size="10" font-weight="bold" text-anchor="end" fill="#111">0.035</text>
<text transform="translate(539.40,36.33) scale(0.96,1.0)" font-size="10" font-weight="bold" text-anchor="end" fill="#111">0.04</text>
<text transform="translate(539.40,18.59) scale(0.96,1.0)" font-size="10" font-weight="bold" text-anchor="end" fill="#111">0.045</text>
<text transform="translate(508.50,92.85) rotate(-90)" x="0" y="0" font-size="8.8" font-weight="normal" text-anchor="middle" fill="#111" stroke="#111" stroke-width="0.3" textLength="26.6" lengthAdjust="spacingAndGlyphs">APX U</text>
<text transform="translate(508.50,65.05) rotate(-90)" x="0" y="0" font-size="8.8" font-weight="normal" text-anchor="middle" fill="#111" stroke="#111" stroke-width="0.3" textLength="16.2" lengthAdjust="spacingAndGlyphs">min</text>
<text transform="translate(508.50,45.40) rotate(-90)" x="0" y="0" font-size="8.8" font-weight="normal" text-anchor="middle" fill="#111" stroke="#111" stroke-width="0.3" textLength="14.8" lengthAdjust="spacingAndGlyphs">mg</text>
<line x1="501.80" y1="78.10" x2="509.80" y2="74.60" stroke="#111" stroke-width="0.95"/>
<line x1="501.80" y1="56.10" x2="509.80" y2="52.60" stroke="#111" stroke-width="0.95"/>
<rect x="564.00" y="38.70" width="18" height="135.05" fill="url(#gb)"/>
<rect x="608.00" y="66.90" width="18" height="106.85" fill="#86a14a"/>
<rect x="652.00" y="89.20" width="18" height="84.55" fill="#a8433b"/>
<line x1="573.00" y1="33.30" x2="573.00" y2="43.20" stroke="#333" stroke-width="0.85"/>
<line x1="569.75" y1="33.30" x2="576.25" y2="33.30" stroke="#222" stroke-width="1.0"/>
<line x1="569.75" y1="43.20" x2="576.25" y2="43.20" stroke="#222" stroke-width="1.0"/>
<line x1="617.00" y1="62.60" x2="617.00" y2="71.20" stroke="#333" stroke-width="0.85"/>
<line x1="613.75" y1="62.60" x2="620.25" y2="62.60" stroke="#222" stroke-width="1.0"/>
<line x1="613.75" y1="71.20" x2="620.25" y2="71.20" stroke="#222" stroke-width="1.0"/>
<line x1="661.00" y1="79.10" x2="661.00" y2="99.50" stroke="#333" stroke-width="0.85"/>
<line x1="657.75" y1="79.10" x2="664.25" y2="79.10" stroke="#222" stroke-width="1.0"/>
<line x1="657.75" y1="99.50" x2="664.25" y2="99.50" stroke="#222" stroke-width="1.0"/>
<line x1="610.00" y1="48.80" x2="610.00" y2="55.60" stroke="#111" stroke-width="1.05"/>
<line x1="607.06" y1="50.50" x2="612.94" y2="53.90" stroke="#111" stroke-width="1.05"/>
<line x1="612.94" y1="50.50" x2="607.06" y2="53.90" stroke="#111" stroke-width="1.05"/>
<circle cx="610.00" cy="52.20" r="1.15" fill="#111"/>
<line x1="620.00" y1="48.80" x2="620.00" y2="55.60" stroke="#111" stroke-width="1.05"/>
<line x1="617.06" y1="50.50" x2="622.94" y2="53.90" stroke="#111" stroke-width="1.05"/>
<line x1="622.94" y1="50.50" x2="617.06" y2="53.90" stroke="#111" stroke-width="1.05"/>
<circle cx="620.00" cy="52.20" r="1.15" fill="#111"/>
<line x1="656.80" y1="67.70" x2="656.80" y2="74.50" stroke="#111" stroke-width="1.05"/>
<line x1="653.86" y1="69.40" x2="659.74" y2="72.80" stroke="#111" stroke-width="1.05"/>
<line x1="659.74" y1="69.40" x2="653.86" y2="72.80" stroke="#111" stroke-width="1.05"/>
<circle cx="656.80" cy="71.10" r="1.15" fill="#111"/>
<line x1="666.50" y1="67.70" x2="666.50" y2="74.50" stroke="#111" stroke-width="1.05"/>
<line x1="663.56" y1="69.40" x2="669.44" y2="72.80" stroke="#111" stroke-width="1.05"/>
<line x1="669.44" y1="69.40" x2="663.56" y2="72.80" stroke="#111" stroke-width="1.05"/>
<circle cx="666.50" cy="71.10" r="1.15" fill="#111"/>
<line x1="551.00" y1="14.00" x2="551.00" y2="174.55" stroke="#000" stroke-width="1.5"/>
<line x1="547.70" y1="173.75" x2="551.00" y2="173.75" stroke="#000" stroke-width="1.5"/>
<line x1="547.70" y1="156.01" x2="551.00" y2="156.01" stroke="#000" stroke-width="1.5"/>
<line x1="547.70" y1="138.27" x2="551.00" y2="138.27" stroke="#000" stroke-width="1.5"/>
<line x1="547.70" y1="120.53" x2="551.00" y2="120.53" stroke="#000" stroke-width="1.5"/>
<line x1="547.70" y1="102.79" x2="551.00" y2="102.79" stroke="#000" stroke-width="1.5"/>
<line x1="547.70" y1="85.05" x2="551.00" y2="85.05" stroke="#000" stroke-width="1.5"/>
<line x1="547.70" y1="67.31" x2="551.00" y2="67.31" stroke="#000" stroke-width="1.5"/>
<line x1="547.70" y1="49.57" x2="551.00" y2="49.57" stroke="#000" stroke-width="1.5"/>
<line x1="547.70" y1="31.83" x2="551.00" y2="31.83" stroke="#000" stroke-width="1.5"/>
<line x1="547.70" y1="14.09" x2="551.00" y2="14.09" stroke="#000" stroke-width="1.5"/>
<line x1="550.20" y1="173.75" x2="683.24" y2="173.75" stroke="#000" stroke-width="1.5"/>
<line x1="551.00" y1="173.75" x2="551.00" y2="177.35" stroke="#000" stroke-width="1.5"/>
<line x1="595.08" y1="173.75" x2="595.08" y2="177.35" stroke="#000" stroke-width="1.5"/>
<line x1="639.16" y1="173.75" x2="639.16" y2="177.35" stroke="#000" stroke-width="1.5"/>
<line x1="683.24" y1="173.75" x2="683.24" y2="177.35" stroke="#000" stroke-width="1.5"/>
<text transform="translate(573.00,191.30) scale(0.92,0.97)" font-size="10" font-weight="bold" text-anchor="middle" fill="#111">Control</text>
<text transform="translate(617.00,191.30) scale(0.92,0.97)" font-size="10" font-weight="bold" text-anchor="middle" fill="#111">Nov</text>
<text transform="translate(661.00,191.30) scale(0.92,0.97)" font-size="10" font-weight="bold" text-anchor="middle" fill="#111">Pif</text>
<text transform="translate(0.20,218.10) scale(1.0,1)" font-size="10.8" font-weight="bold" text-anchor="start" fill="#111">B</text>
<text transform="translate(49.80,401.20) scale(0.96,1.0)" font-size="10" font-weight="bold" text-anchor="end" fill="#111">0</text>
<text transform="translate(49.80,371.90) scale(0.96,1.0)" font-size="10" font-weight="bold" text-anchor="end" fill="#111">50</text>
<text transform="translate(49.80,342.60) scale(0.96,1.0)" font-size="10" font-weight="bold" text-anchor="end" fill="#111">100</text>
<text transform="translate(49.80,313.30) scale(0.96,1.0)" font-size="10" font-weight="bold" text-anchor="end" fill="#111">150</text>
<text transform="translate(49.80,284.00) scale(0.96,1.0)" font-size="10" font-weight="bold" text-anchor="end" fill="#111">200</text>
<text transform="translate(49.80,254.70) scale(0.96,1.0)" font-size="10" font-weight="bold" text-anchor="end" fill="#111">250</text>
<text transform="translate(49.80,225.40) scale(0.96,1.0)" font-size="10" font-weight="bold" text-anchor="end" fill="#111">300</text>
<text transform="translate(31.00,315.00) rotate(-90)" x="0" y="0" font-size="9.7" font-weight="bold" text-anchor="middle" fill="#111" textLength="113.6" lengthAdjust="spacingAndGlyphs">Relative fluorescence (%)</text>
<rect x="76.00" y="337.70" width="22" height="59.10" fill="url(#gb)"/>
<rect x="131.50" y="307.00" width="22" height="89.80" fill="#86a14a"/>
<rect x="187.10" y="264.00" width="22" height="132.80" fill="#a8433b"/>
<line x1="87.00" y1="337.30" x2="87.00" y2="338.00" stroke="#333" stroke-width="0.85"/>
<line x1="83.75" y1="337.30" x2="90.25" y2="337.30" stroke="#222" stroke-width="1.0"/>
<line x1="83.75" y1="338.00" x2="90.25" y2="338.00" stroke="#222" stroke-width="1.0"/>
<line x1="142.50" y1="303.60" x2="142.50" y2="310.40" stroke="#333" stroke-width="0.85"/>
<line x1="139.00" y1="303.60" x2="146.00" y2="303.60" stroke="#222" stroke-width="1.0"/>
<line x1="139.00" y1="310.40" x2="146.00" y2="310.40" stroke="#222" stroke-width="1.0"/>
<line x1="198.30" y1="242.40" x2="198.30" y2="285.40" stroke="#333" stroke-width="0.85"/>
<line x1="195.05" y1="242.40" x2="201.55" y2="242.40" stroke="#222" stroke-width="1.0"/>
<line x1="195.05" y1="285.40" x2="201.55" y2="285.40" stroke="#222" stroke-width="1.0"/>
<line x1="140.30" y1="291.80" x2="140.30" y2="299.00" stroke="#111" stroke-width="1.05"/>
<line x1="137.18" y1="293.60" x2="143.42" y2="297.20" stroke="#111" stroke-width="1.05"/>
<line x1="143.42" y1="293.60" x2="137.18" y2="297.20" stroke="#111" stroke-width="1.05"/>
<circle cx="140.30" cy="295.40" r="1.15" fill="#111"/>
<line x1="149.80" y1="291.80" x2="149.80" y2="299.00" stroke="#111" stroke-width="1.05"/>
<line x1="146.68" y1="293.60" x2="152.92" y2="297.20" stroke="#111" stroke-width="1.05"/>
<line x1="152.92" y1="293.60" x2="146.68" y2="297.20" stroke="#111" stroke-width="1.05"/>
<circle cx="149.80" cy="295.40" r="1.15" fill="#111"/>
<line x1="200.00" y1="231.50" x2="200.00" y2="238.30" stroke="#111" stroke-width="1.05"/>
<line x1="197.06" y1="233.20" x2="202.94" y2="236.60" stroke="#111" stroke-width="1.05"/>
<line x1="202.94" y1="233.20" x2="197.06" y2="236.60" stroke="#111" stroke-width="1.05"/>
<circle cx="200.00" cy="234.90" r="1.15" fill="#111"/>
<line x1="59.00" y1="221.00" x2="59.00" y2="397.60" stroke="#000" stroke-width="1.5"/>
<line x1="55.70" y1="396.80" x2="59.00" y2="396.80" stroke="#000" stroke-width="1.5"/>
<line x1="55.70" y1="367.50" x2="59.00" y2="367.50" stroke="#000" stroke-width="1.5"/>
<line x1="55.70" y1="338.20" x2="59.00" y2="338.20" stroke="#000" stroke-width="1.5"/>
<line x1="55.70" y1="308.90" x2="59.00" y2="308.90" stroke="#000" stroke-width="1.5"/>
<line x1="55.70" y1="279.60" x2="59.00" y2="279.60" stroke="#000" stroke-width="1.5"/>
<line x1="55.70" y1="250.30" x2="59.00" y2="250.30" stroke="#000" stroke-width="1.5"/>
<line x1="55.70" y1="221.00" x2="59.00" y2="221.00" stroke="#000" stroke-width="1.5"/>
<line x1="58.20" y1="396.80" x2="225.95" y2="396.80" stroke="#000" stroke-width="1.5"/>
<line x1="59.00" y1="396.80" x2="59.00" y2="400.40" stroke="#000" stroke-width="1.5"/>
<line x1="114.65" y1="396.80" x2="114.65" y2="400.40" stroke="#000" stroke-width="1.5"/>
<line x1="170.30" y1="396.80" x2="170.30" y2="400.40" stroke="#000" stroke-width="1.5"/>
<line x1="225.95" y1="396.80" x2="225.95" y2="400.40" stroke="#000" stroke-width="1.5"/>
<text transform="translate(87.00,414.60) scale(0.92,0.97)" font-size="10" font-weight="bold" text-anchor="middle" fill="#111">Control</text>
<text transform="translate(142.50,414.60) scale(0.92,0.97)" font-size="10" font-weight="bold" text-anchor="middle" fill="#111">Nov</text>
<text transform="translate(198.10,414.60) scale(0.92,0.97)" font-size="10" font-weight="bold" text-anchor="middle" fill="#111">Pif</text>
<text transform="translate(243.00,218.30) scale(1.0,1)" font-size="10.8" font-weight="bold" text-anchor="start" fill="#111">D</text>
<text transform="translate(301.60,398.60) scale(0.96,1.0)" font-size="10" font-weight="bold" text-anchor="end" fill="#111">0</text>
<text transform="translate(301.60,381.44) scale(0.96,1.0)" font-size="10" font-weight="bold" text-anchor="end" fill="#111">20</text>
<text transform="translate(301.60,364.28) scale(0.96,1.0)" font-size="10" font-weight="bold" text-anchor="end" fill="#111">40</text>
<text transform="translate(301.60,347.12) scale(0.96,1.0)" font-size="10" font-weight="bold" text-anchor="end" fill="#111">60</text>
<text transform="translate(301.60,329.96) scale(0.96,1.0)" font-size="10" font-weight="bold" text-anchor="end" fill="#111">80</text>
<text transform="translate(301.60,312.80) scale(0.96,1.0)" font-size="10" font-weight="bold" text-anchor="end" fill="#111">100</text>
<text transform="translate(301.60,295.64) scale(0.96,1.0)" font-size="10" font-weight="bold" text-anchor="end" fill="#111">120</text>
<text transform="translate(301.60,278.48) scale(0.96,1.0)" font-size="10" font-weight="bold" text-anchor="end" fill="#111">140</text>
<text transform="translate(301.60,261.32) scale(0.96,1.0)" font-size="10" font-weight="bold" text-anchor="end" fill="#111">160</text>
<text transform="translate(301.60,244.16) scale(0.96,1.0)" font-size="10" font-weight="bold" text-anchor="end" fill="#111">180</text>
<text transform="translate(301.60,227.00) scale(0.96,1.0)" font-size="10" font-weight="bold" text-anchor="end" fill="#111">200</text>
<text transform="translate(280.00,308.00) rotate(-90)" x="0" y="0" font-size="9.7" font-weight="bold" text-anchor="middle" fill="#111" textLength="113.6" lengthAdjust="spacingAndGlyphs">Relative fluorescence (%)</text>
<rect x="327.30" y="308.50" width="20.8" height="85.60" fill="url(#gb)"/>
<rect x="378.80" y="261.50" width="20.8" height="132.60" fill="#86a14a"/>
<rect x="430.10" y="276.50" width="20.8" height="117.60" fill="#a8433b"/>
<line x1="337.70" y1="308.10" x2="337.70" y2="308.80" stroke="#333" stroke-width="0.85"/>
<line x1="334.45" y1="308.10" x2="340.95" y2="308.10" stroke="#222" stroke-width="1.0"/>
<line x1="334.45" y1="308.80" x2="340.95" y2="308.80" stroke="#222" stroke-width="1.0"/>
<line x1="389.30" y1="241.10" x2="389.30" y2="281.50" stroke="#333" stroke-width="0.85"/>
<line x1="386.05" y1="241.10" x2="392.55" y2="241.10" stroke="#222" stroke-width="1.0"/>
<line x1="386.05" y1="281.50" x2="392.55" y2="281.50" stroke="#222" stroke-width="1.0"/>
<line x1="440.40" y1="269.50" x2="440.40" y2="283.40" stroke="#333" stroke-width="0.85"/>
<line x1="437.15" y1="269.50" x2="443.65" y2="269.50" stroke="#222" stroke-width="1.0"/>
<line x1="437.15" y1="283.40" x2="443.65" y2="283.40" stroke="#222" stroke-width="1.0"/>
<line x1="390.00" y1="230.30" x2="390.00" y2="237.10" stroke="#111" stroke-width="1.05"/>
<line x1="387.06" y1="232.00" x2="392.94" y2="235.40" stroke="#111" stroke-width="1.05"/>
<line x1="392.94" y1="232.00" x2="387.06" y2="235.40" stroke="#111" stroke-width="1.05"/>
<circle cx="390.00" cy="233.70" r="1.15" fill="#111"/>
<line x1="441.00" y1="258.20" x2="441.00" y2="265.00" stroke="#111" stroke-width="1.05"/>
<line x1="438.06" y1="259.90" x2="443.94" y2="263.30" stroke="#111" stroke-width="1.05"/>
<line x1="443.94" y1="259.90" x2="438.06" y2="263.30" stroke="#111" stroke-width="1.05"/>
<circle cx="441.00" cy="261.60" r="1.15" fill="#111"/>
<line x1="312.00" y1="222.40" x2="312.00" y2="394.90" stroke="#000" stroke-width="1.5"/>
<line x1="308.70" y1="394.10" x2="312.00" y2="394.10" stroke="#000" stroke-width="1.5"/>
<line x1="308.70" y1="376.94" x2="312.00" y2="376.94" stroke="#000" stroke-width="1.5"/>
<line x1="308.70" y1="359.78" x2="312.00" y2="359.78" stroke="#000" stroke-width="1.5"/>
<line x1="308.70" y1="342.62" x2="312.00" y2="342.62" stroke="#000" stroke-width="1.5"/>
<line x1="308.70" y1="325.46" x2="312.00" y2="325.46" stroke="#000" stroke-width="1.5"/>
<line x1="308.70" y1="308.30" x2="312.00" y2="308.30" stroke="#000" stroke-width="1.5"/>
<line x1="308.70" y1="291.14" x2="312.00" y2="291.14" stroke="#000" stroke-width="1.5"/>
<line x1="308.70" y1="273.98" x2="312.00" y2="273.98" stroke="#000" stroke-width="1.5"/>
<line x1="308.70" y1="256.82" x2="312.00" y2="256.82" stroke="#000" stroke-width="1.5"/>
<line x1="308.70" y1="239.66" x2="312.00" y2="239.66" stroke="#000" stroke-width="1.5"/>
<line x1="308.70" y1="222.50" x2="312.00" y2="222.50" stroke="#000" stroke-width="1.5"/>
<line x1="311.20" y1="394.10" x2="466.20" y2="394.10" stroke="#000" stroke-width="1.5"/>
<line x1="312.00" y1="394.10" x2="312.00" y2="397.70" stroke="#000" stroke-width="1.5"/>
<line x1="363.40" y1="394.10" x2="363.40" y2="397.70" stroke="#000" stroke-width="1.5"/>
<line x1="414.80" y1="394.10" x2="414.80" y2="397.70" stroke="#000" stroke-width="1.5"/>
<line x1="466.20" y1="394.10" x2="466.20" y2="397.70" stroke="#000" stroke-width="1.5"/>
<text transform="translate(337.70,412.10) scale(0.92,0.97)" font-size="10" font-weight="bold" text-anchor="middle" fill="#111">Control</text>
<text transform="translate(389.20,412.10) scale(0.92,0.97)" font-size="10" font-weight="bold" text-anchor="middle" fill="#111">Nov</text>
<text transform="translate(440.50,412.10) scale(0.92,0.97)" font-size="10" font-weight="bold" text-anchor="middle" fill="#111">Pif</text>
</svg>
</body></html>
